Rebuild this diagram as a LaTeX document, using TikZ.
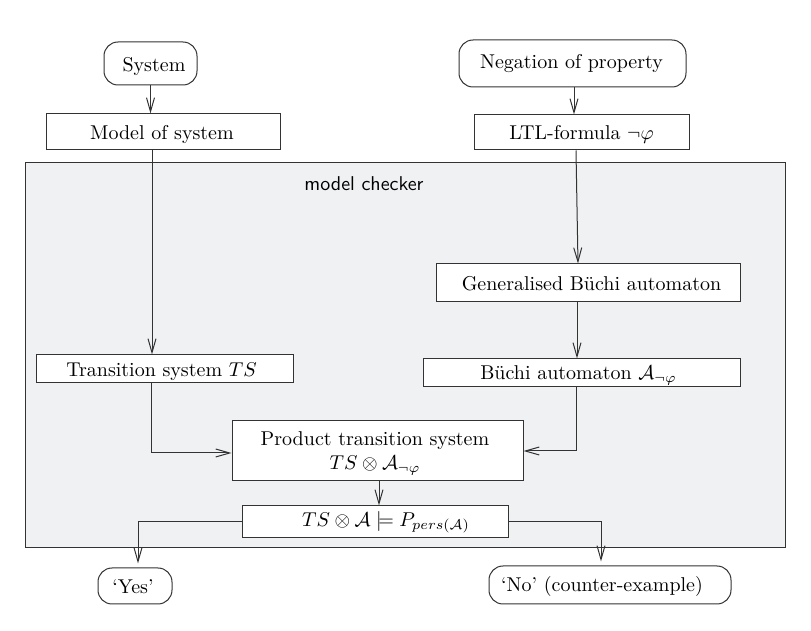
\documentclass[tikz,border=0pt]{standalone}
\usetikzlibrary{arrows.meta,calc}
\definecolor{linec}{HTML}{333333}
\definecolor{mcfill}{HTML}{F0F1F3}
\newcommand\dn[2]{\raisebox{-#1}[\height][\depth]{#2}}
\begin{document}
\begin{tikzpicture}[x=0.5pt,y=-0.5pt,
  >={Straight Barb[length=7pt,width=4pt]},
  every path/.style={line width=0.5pt},
  conn/.style={draw=linec,->},
  box/.style={draw=linec, fill=white, inner sep=0pt, line width=0.5pt},
  rbox/.style={box, rounded corners=7pt}]
\useasboundingbox (0,0) rectangle (811,631);
% model checker region
\path[draw=linec, fill=mcfill] (25,163) rectangle (785,548);
\node[font=\sffamily] (mclabel) at (364,184) {model checker};
% nodes
\node[rbox, minimum width=46.5pt, minimum height=21.5pt] (sys) at (150.5,63.5) {\dn{1.6pt}{\hspace*{3.5pt}System}};
\node[rbox, minimum width=113.5pt, minimum height=23.5pt] (neg) at (572.5,63.5) {\dn{0.25pt}{Negation of property\hspace*{1pt}}};
\node[box, minimum width=117pt, minimum height=18pt] (model) at (163,132) {\dn{1.5pt}{Model of system\hspace*{1pt}}};
\node[box, minimum width=107.5pt, minimum height=17.5pt] (ltl) at (581.5,132.5) {\dn{0.75pt}{LTL-formula $\neg\varphi$}};
\node[box, minimum width=152pt, minimum height=19pt] (gba) at (588,283) {\dn{0.4pt}{\hspace*{3.5pt}Generalised B\"uchi automaton}};
\node[box, minimum width=128.5pt, minimum height=14pt] (ts) at (164.5,369) {\dn{1.3pt}{Transition system $TS$\hspace*{3pt}}};
\node[box, minimum width=158.5pt, minimum height=14pt] (buchi) at (581.5,373) {\dn{1pt}{B\"uchi automaton $\mathcal{A}_{\neg\varphi}$\hspace*{3pt}}};
\node[box, minimum width=145.5pt, minimum height=30pt, align=center] (prod) at (377.5,451) {\dn{1.3pt}{Product transition system\hspace*{2.5pt}}\\\dn{1.3pt}{$TS\otimes\mathcal{A}_{\neg\varphi}$\hspace*{2.5pt}}};
\node[box, minimum width=133pt, minimum height=16pt] (check) at (375,522) {\dn{0.2pt}{\hspace*{11pt}$TS\otimes\mathcal{A}\models P_{pers(\mathcal{A})}$}};
\node[rbox, minimum width=37pt, minimum height=18pt] (yes) at (135,586) {\dn{0.2pt}{`Yes'\hspace*{2pt}}};
\node[rbox, minimum width=121pt, minimum height=19pt] (no) at (610,585) {\dn{0.85pt}{`No' (counter-example)\hspace*{8pt}}};
% connectors
\draw[conn] (sys.south) -- (sys.south |- model.north);
\draw[conn] ([xshift=0.75pt]neg.south) -- ([xshift=0.75pt]neg.south |- ltl.north);
\draw[conn] ([xshift=-5.5pt]model.south) -- ([xshift=-5.5pt]model.south |- ts.north);
\draw[conn] ([xshift=-2.75pt]ltl.south) -- ([xshift=-5pt]gba.north);
\draw[conn] ([xshift=-5.5pt]gba.south) -- ([xshift=-5.5pt]gba.south |- buchi.north);
\draw[conn] ([xshift=-6.75pt]ts.south) |- ([yshift=-1pt]prod.west);
\draw[conn] ([xshift=-2.75pt]buchi.south) |- (prod.east);
\draw[conn] ([xshift=0.75pt]prod.south) -- ([xshift=0.75pt]prod.south |- check.north);
\draw[conn, shorten >=2pt] (check.west) -| ([xshift=1.5pt]yes.north);
\draw[conn, shorten >=2pt] (check.east) -| ([xshift=-4.5pt]no.north);
\end{tikzpicture}
\end{document}
